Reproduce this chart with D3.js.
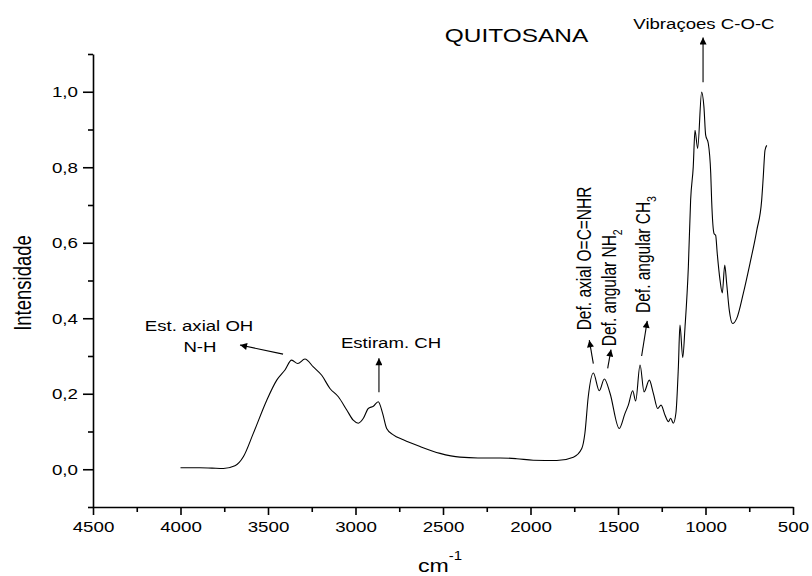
<!DOCTYPE html>
<html>
<head>
<meta charset="utf-8">
<script src="https://cdn.jsdelivr.net/npm/d3@7"></script>
<style>
  body { margin: 0; background: #fff; }
  svg { display: block; font-family: "Liberation Sans", Arial, sans-serif; }
</style>
</head>
<body>
<svg id="chart" width="812" height="576"></svg>
<script>
// spectrum: wavenumber (cm-1) and intensity
const waveNumbers = [4000, 3889, 3820, 3755, 3689, 3641, 3584, 3507, 3450, 3403, 3365, 3330, 3289, 3241, 3193, 3146, 3098, 3050, 3013, 2984, 2955, 2927, 2898, 2870, 2845, 2822, 2784, 2727, 2631, 2517, 2403, 2300, 2174, 2080, 1984, 1850, 1755, 1707, 1689, 1670, 1641, 1607, 1578, 1546, 1493, 1460, 1441, 1416, 1399, 1374, 1351, 1321, 1298, 1273, 1254, 1231, 1212, 1199, 1184, 1169, 1155, 1146, 1130, 1117, 1098, 1085, 1070, 1060, 1045, 1022, 1009, 999, 984, 970, 965, 951, 942, 933, 917, 904, 890, 879, 864, 845, 822, 784, 746, 707, 679, 670, 660, 650];
const intensity = [0.004, 0.004, 0.003, 0.002, 0.009, 0.033, 0.095, 0.183, 0.236, 0.263, 0.289, 0.280, 0.292, 0.271, 0.249, 0.214, 0.192, 0.157, 0.130, 0.122, 0.135, 0.161, 0.167, 0.179, 0.148, 0.108, 0.091, 0.078, 0.060, 0.042, 0.032, 0.030, 0.030, 0.028, 0.024, 0.023, 0.032, 0.055, 0.096, 0.192, 0.255, 0.208, 0.239, 0.202, 0.108, 0.148, 0.170, 0.208, 0.181, 0.276, 0.205, 0.236, 0.201, 0.161, 0.170, 0.143, 0.126, 0.135, 0.122, 0.149, 0.271, 0.382, 0.296, 0.377, 0.536, 0.713, 0.801, 0.898, 0.850, 0.999, 0.960, 0.885, 0.863, 0.783, 0.713, 0.624, 0.620, 0.572, 0.501, 0.467, 0.541, 0.492, 0.421, 0.386, 0.399, 0.466, 0.545, 0.633, 0.713, 0.774, 0.845, 0.858];

const xMajorTicks = [4500, 4000, 3500, 3000, 2500, 2000, 1500, 1000, 500];
const xMinorTicks = [4250, 3750, 3250, 2750, 2250, 1750, 1250, 750];
const yMajorTicks = [0.0, 0.2, 0.4, 0.6, 0.8, 1.0];
const yMinorTicks = [-0.1, 0.1, 0.3, 0.5, 0.7, 0.9, 1.1];

// peak labels: text, anchor (wavenumber, intensity), rotation
const labels = [
    { text: "Est. axial OH", w: 3894, v: 0.366, rot: 0 },
    { text: "N-H", w: 3889, v: 0.310, rot: 0 },
    { text: "Estiram. CH", w: 2797, v: 0.321, rot: 0 },
    { text: "Vibraçoes C-O-C", w: 1009, v: 1.167, rot: 0 },
    { text: "Def. axial O=C=NHR", w: 1654, v: 0.368, rot: -90 },
    { text: "Def. angular NH", sub: "2", w: 1511, v: 0.326, rot: -90 },
    { text: "Def. angular CH", sub: "3", w: 1317, v: 0.414, rot: -90 }
];
// arrows: from (w1,v1) to tip (w2,v2)
const arrows = [
    [3414, 0.305, 3660, 0.329],
    [2866, 0.204, 2866, 0.294],
    [1014, 1.025, 1014, 1.144],
    [1641, 0.280, 1664, 0.342],
    [1559, 0.267, 1540, 0.317],
    [1365, 0.300, 1333, 0.393]
];

const SX = 1.25; // the text in the picture is a bit wide

const svg = d3.select("#chart");
const x = d3.scaleLinear().domain([4500, 500]).range([93, 793]);
const y = d3.scaleLinear().domain([-0.1, 1.1]).range([507, 54]);
const fmtY = d3.formatLocale({ decimal: ",", thousands: ".", grouping: [3], currency: ["", ""] }).format(".1f");

svg.append("defs").append("marker")
    .attr("id", "head")
    .attr("viewBox", "0 0 10 10")
    .attr("refX", 10).attr("refY", 5)
    .attr("markerWidth", 9).attr("markerHeight", 7)
    .attr("markerUnits", "userSpaceOnUse")
    .attr("orient", "auto")
    .append("path").attr("d", "M0,0 L10,5 L0,10 Z").attr("fill", "#000");

// minor ticks first, then the main axes over them
svg.append("g")
    .attr("transform", "translate(0,507)")
    .call(d3.axisBottom(x).tickValues(xMinorTicks).tickSize(5).tickFormat(""))
    .call(g => g.select(".domain").remove());
svg.append("g")
    .attr("transform", "translate(93,0)")
    .call(d3.axisLeft(y).tickValues(yMinorTicks).tickSize(5).tickFormat(""))
    .call(g => g.select(".domain").remove());

const xAxis = svg.append("g")
    .attr("transform", "translate(0,507)")
    .call(d3.axisBottom(x).tickValues(xMajorTicks).tickSize(8).tickSizeOuter(0).tickFormat(d3.format("d")));
xAxis.selectAll(".tick text")
    .attr("y", 0).attr("dy", "0.71em")
    .attr("transform", `translate(0,14) scale(${SX},1)`);

const yAxis = svg.append("g")
    .attr("transform", "translate(93,0)")
    .call(d3.axisLeft(y).tickValues(yMajorTicks).tickSize(10).tickSizeOuter(0).tickFormat(fmtY));
yAxis.selectAll(".tick text")
    .attr("x", 0)
    .attr("transform", `translate(-15,0) scale(${SX},1)`);

svg.selectAll(".tick text").attr("font-size", 15).attr("fill", "#000").attr("font-family", null);
svg.selectAll(".domain, .tick line").attr("stroke", "#000").attr("stroke-width", 1.6);

// spectrum
const pts = waveNumbers.map((w, i) => [w, intensity[i]]);
svg.append("path")
    .datum(pts)
    .attr("fill", "none")
    .attr("stroke", "#000")
    .attr("stroke-width", 1.1)
    .attr("d", d3.line().x(d => x(d[0])).y(d => y(d[1])).curve(d3.curveMonotoneX));

// title and axis titles
svg.append("text")
    .attr("transform", `translate(${x(2080)},${y(1.131)}) scale(1.32,1)`)
    .attr("text-anchor", "middle").attr("font-size", 18.5)
    .text("QUITOSANA");

svg.append("text")
    .attr("transform", `translate(31,283) scale(${SX},1) rotate(-90)`)
    .attr("text-anchor", "middle").attr("font-size", 18.5)
    .text("Intensidade");

const xt = svg.append("text")
    .attr("transform", `translate(440,572) scale(${SX},1)`)
    .attr("text-anchor", "middle").attr("font-size", 18.5);
xt.append("tspan").text("cm");
xt.append("tspan").attr("dy", -12).attr("font-size", 12).text("-1");

// peak annotations
labels.forEach(l => {
    const t = svg.append("text")
        .attr("transform", `translate(${x(l.w)},${y(l.v)}) scale(${l.rot ? SX : 1.2},1) rotate(${l.rot})`)
        .attr("text-anchor", l.rot ? "start" : "middle")
        .attr("font-size", 15.5)
        .text(l.text);
    if (l.sub) {
        t.append("tspan").attr("dy", 5).attr("font-size", 10.5).text(l.sub);
    }
});

svg.append("g").selectAll("line")
    .data(arrows)
    .join("line")
    .attr("x1", d => x(d[0])).attr("y1", d => y(d[1]))
    .attr("x2", d => x(d[2])).attr("y2", d => y(d[3]))
    .attr("stroke", "#000").attr("stroke-width", 1.1)
    .attr("marker-end", "url(#head)");
</script>
</body>
</html>
